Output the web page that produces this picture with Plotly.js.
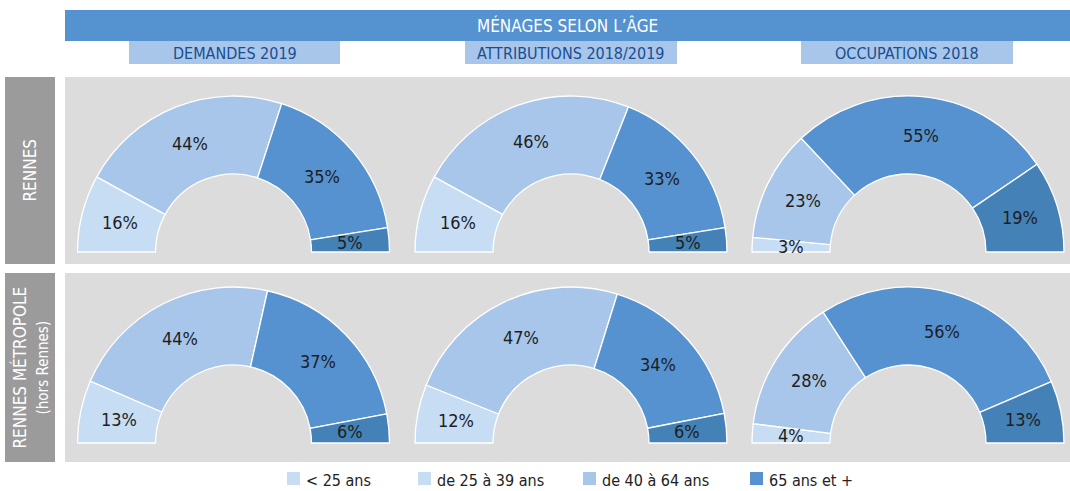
<!DOCTYPE html>
<html><head><meta charset="utf-8">
<script src="https://cdn.plot.ly/plotly-3.0.1.min.js"></script>
<style>html,body{margin:0;padding:0;overflow:hidden;background:#fff;width:1070px;height:491px}#c{width:1070px;height:700px}</style>
</head><body><div id="c"></div>
<script>
const categories = ['< 25 ans','de 25 à 39 ans','de 40 à 64 ans','65 ans et +'];
const mainTitle = 'MÉNAGES SELON L’ÂGE';
const columnTitles = ['DEMANDES 2019','ATTRIBUTIONS 2018/2019','OCCUPATIONS 2018'];
const rowTitles = ['RENNES', 'RENNES MÉTROPOLE<br><span style="font-size:15px">(hors Rennes)</span>'];
const rennesDemandes = [16,44,35,5];
const rennesAttributions = [16,46,33,5];
const rennesOccupations = [3,23,55,19];
const metroDemandes = [13,44,37,6];
const metroAttributions = [12,47,34,6];
const metroOccupations = [4,28,56,13];
const sliceColors = ['#c6ddf4','#a7c6ea','#5592cf','#4381b6'];
const legendColors = ['#c6ddf4','#c6ddf4','#a7c6ea','#5592cf'];

const grid = [[rennesDemandes,rennesAttributions,rennesOccupations],[metroDemandes,metroAttributions,metroOccupations]];
const W=1070, H=700;
const X = p => p/W, Y = p => 1 - p/H;
const FONT = '"Liberation Sans Narrow", "Arial Narrow", "DejaVu Sans Condensed", sans-serif';
const colCx = [233.5, 571, 908];
const rowCy = [252, 443];
const R = 156;
const HOLE = 0.5;

const data = [];
const shapes = [];
const annotations = [];
grid.forEach((row, ri) => row.forEach((vals, ci) => {
  const total = vals.reduce((a,b)=>a+b,0);
  const cx = colCx[ci], cy = rowCy[ri];
  data.push({
    type:'pie', sort:false, direction:'clockwise', rotation:270, hole:HOLE,
    values: vals.concat([total]), labels: categories.concat(['_']),
    textinfo:'none',
    marker:{colors: sliceColors.concat(['rgba(0,0,0,0)']), line:{color: vals.map(()=> '#ffffff').concat(['rgba(0,0,0,0)']), width:1.3}},
    hoverinfo:'none', showlegend:false,
    domain:{x:[X(cx-R), X(cx+R)], y:[Y(cy+R), Y(cy-R)]}
  });
  // labels at the middle of each ring segment
  let cum = 0;
  const rm = R*(1+HOLE)/2;
  vals.forEach(v => {
    const th = Math.PI*(1 - (cum + v/2)/total);
    cum += v;
    annotations.push({xref:'paper', yref:'paper', x:X(cx + rm*Math.cos(th)), y:Y(cy - rm*Math.sin(th)),
      text: v+'%', showarrow:false, xanchor:'center', yanchor:'middle',
      font:{family:FONT, size:18, color:'#1e1e1e'}});
  });
}));

// header
shapes.push({type:'rect', xref:'paper', yref:'paper', x0:X(65), x1:X(1070), y0:Y(41), y1:Y(10), fillcolor:'#5592d0', line:{width:0}, layer:'below'});
annotations.push({xref:'paper', yref:'paper', x:X(567), y:Y(25.5), text:mainTitle, showarrow:false, font:{family:FONT, size:17, color:'#ffffff'}, xanchor:'center', yanchor:'middle'});
const subX = [[129,340],[465,677],[801,1013]];
columnTitles.forEach((t,i)=>{
  shapes.push({type:'rect', xref:'paper', yref:'paper', x0:X(subX[i][0]), x1:X(subX[i][1]), y0:Y(64), y1:Y(41), fillcolor:'#a7c6ea', line:{width:0}, layer:'below'});
  annotations.push({xref:'paper', yref:'paper', x:X((subX[i][0]+subX[i][1])/2), y:Y(53), text:t, showarrow:false, font:{family:FONT, size:16, color:'#1b4d91'}, xanchor:'center', yanchor:'middle'});
});
const rowY = [[77,264],[273,462]];
rowTitles.forEach((t,i)=>{
  shapes.push({type:'rect', xref:'paper', yref:'paper', x0:X(65), x1:X(1070), y0:Y(rowY[i][1]), y1:Y(rowY[i][0]), fillcolor:'#dcdcdc', line:{width:0}, layer:'below'});
  shapes.push({type:'rect', xref:'paper', yref:'paper', x0:X(5), x1:X(55), y0:Y(rowY[i][1]), y1:Y(rowY[i][0]), fillcolor:'#9b9b9b', line:{width:0}, layer:'below'});
  annotations.push({xref:'paper', yref:'paper', x:X(30), y:Y((rowY[i][0]+rowY[i][1])/2), text:t, textangle:-90, showarrow:false, font:{family:FONT, size:17, color:'#ffffff'}, xanchor:'center', yanchor:'middle'});
});
// legend
const legX = [287, 418, 583, 750];
categories.forEach((c,i)=>{
  shapes.push({type:'rect', xref:'paper', yref:'paper', x0:X(legX[i]), x1:X(legX[i]+13), y0:Y(485), y1:Y(472), fillcolor:legendColors[i], line:{width:0}});
  annotations.push({xref:'paper', yref:'paper', x:X(legX[i]+17), y:Y(480), text:c.replace('<','&lt;'), showarrow:false, font:{family:FONT, size:16, color:'#222222'}, xanchor:'left', yanchor:'middle'});
});

Plotly.newPlot('c', data, {
  width:W, height:H, margin:{l:0,r:0,t:0,b:0}, paper_bgcolor:'#ffffff',
  shapes, annotations, showlegend:false
}, {staticPlot:true});
</script></body></html>
